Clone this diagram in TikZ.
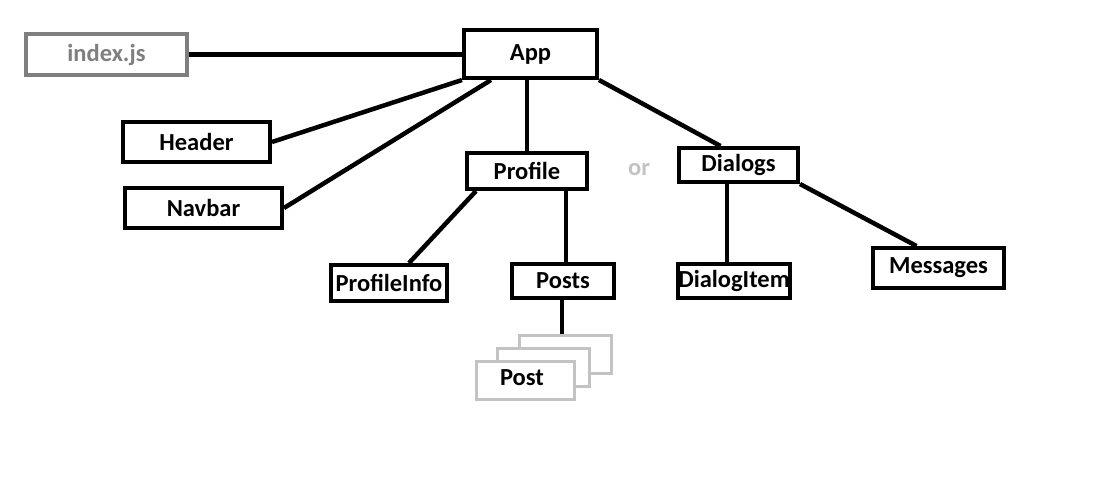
\documentclass[tikz,border=0pt]{standalone}
\usepackage{fontspec}
\setmainfont{Carlito}
\usetikzlibrary{calc}
\definecolor{midgray}{HTML}{7F7F7F}
\definecolor{lightgray2}{HTML}{C3C3C3}
\begin{document}
\begin{tikzpicture}[x=1pt,y=-1pt,
  every node/.style={font=\fontsize{24.5}{28}\selectfont\bfseries, inner sep=0pt},
  box/.style={draw=black, line width=4pt, fill=white},
  grbox/.style={draw=midgray, line width=4pt, fill=white, text=midgray},
  postbox/.style={draw=lightgray2, line width=3pt, fill=white, minimum width=92pt, minimum height=38pt},
  conn/.style={draw=black, line width=4.5pt}]
\useasboundingbox[fill=white] (0,0) rectangle (1102,496);
\node[grbox, minimum width=161pt, minimum height=41pt] (idx) at (106.5,54.5) {index.js};
\node[box, minimum width=133pt, minimum height=48pt] (app) at (530.5,54) {App};
\node[box, minimum width=147pt, minimum height=40pt] (header) at (196.5,142) {Header};
\node[box, minimum width=157pt, minimum height=40pt] (navbar) at (203.5,208) {Navbar};
\node[box, minimum width=120pt, minimum height=36pt] (profile) at (527,171) {Profile};
\node[box, minimum width=119pt, minimum height=34pt] (dialogs) at (738.5,165) {Dialogs};
\node[text=lightgray2] (or) at (639,170) {or};
\node[box, minimum width=116pt, minimum height=36pt] (pinfo) at (389,283) {ProfileInfo};
\node[box, minimum width=102pt, minimum height=34pt] (posts) at (563,281) {Posts};
\node[box, minimum width=104pt, minimum height=34pt] (ditem) at (734,281) {DialogItem};
\node[box, minimum width=131pt, minimum height=40pt] (messages) at (938.5,268) {Messages};
\node[postbox] (post3) at (565,354) {};
\node[postbox] (post2) at (543,367.5) {};
\node[postbox, minimum width=98pt] (post1) at (525.5,380.5) {};
\node (posttext) at (522,378) {Post};
\path[conn] (idx.east) -- (idx.east -| app.west);
\path[conn] (app.south west) -- (header.east);
\path[conn] ([xshift=29pt]app.south west) -- (navbar.east);
\path[conn] (profile.north |- app.south) -- (profile.north);
\path[conn] (app.south east) -- ([xshift=-18pt]dialogs.north);
\path[conn] ([xshift=11pt]profile.south west) -- ([xshift=20pt]pinfo.north);
\path[conn] ([xshift=39pt]profile.south) -- ([xshift=39pt]profile.south |- posts.north);
\path[conn] ([xshift=-1pt]posts.south) -- ([xshift=-1pt]posts.south |- post3.north);
\path[conn] ([xshift=-11.5pt]dialogs.south) -- ([xshift=-11.5pt]dialogs.south |- ditem.north);
\path[conn] (dialogs.south east) -- ([xshift=-22pt]messages.north);
\end{tikzpicture}
\end{document}
